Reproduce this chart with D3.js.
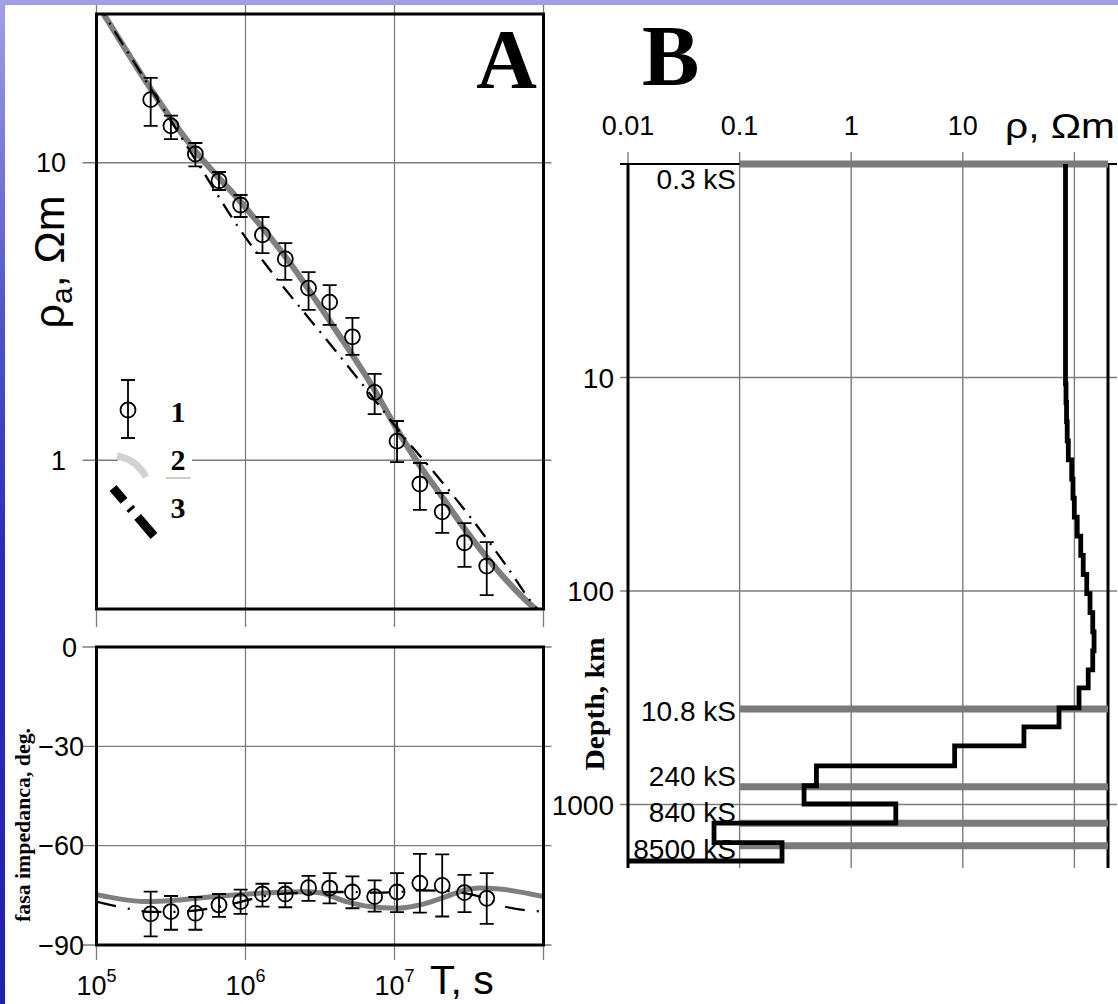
<!DOCTYPE html>
<html>
<head>
<meta charset="utf-8">
<script src="https://cdn.jsdelivr.net/npm/d3@7"></script>
<style>
  body { margin: 0; background: #fff; }
  svg { display: block; }
</style>
</head>
<body>
<div id="chart"></div>
<script>
// ---- panel A : apparent resistivity and phase ----
const periods = [2.31e5, 3.16e5, 4.61e5, 6.64e5, 9.27e5, 1.30e6, 1.85e6, 2.65e6, 3.67e6, 5.22e6, 7.36e6, 1.04e7, 1.48e7, 2.09e7, 2.95e7, 4.16e7];
const rhoObs = [16.3, 13.3, 10.7, 8.70, 7.21, 5.72, 4.75, 3.79, 3.40, 2.60, 1.69, 1.16, 0.832, 0.671, 0.528, 0.441];
const rhoLow = [13.3, 12.0, 9.73, 8.10, 6.57, 4.97, 4.04, 3.20, 2.85, 2.26, 1.43, 0.986, 0.681, 0.570, 0.438, 0.352];
const rhoHigh = [19.3, 14.4, 11.65, 9.31, 7.79, 6.57, 5.37, 4.29, 3.88, 3.01, 1.95, 1.355, 0.979, 0.776, 0.615, 0.531];

const phaseObs = [-80.6, -79.9, -80.4, -77.9, -76.9, -74.6, -74.6, -72.7, -72.8, -74.0, -75.4, -74.0, -71.3, -72.0, -74.2, -75.9];
const phaseLow = [-87.4, -85.4, -85.4, -81.5, -80.6, -78.4, -78.6, -76.7, -77.4, -78.9, -79.9, -80.1, -80.2, -81.4, -80.1, -83.6];
const phaseHigh = [-73.9, -75.2, -75.5, -74.6, -73.3, -71.5, -71.3, -69.1, -68.3, -69.3, -70.5, -68.3, -62.5, -62.6, -68.8, -68.3];

// model 2 (grey) and model 3 (dash-dot) responses
const model2T = [1e5, 4.64e5, 9.29e5, 1.86e6, 4.03e6, 7.36e6, 1.02e7, 1.50e7, 2.10e7, 2.90e7, 4.14e7, 8.83e7, 1e8];
const model2Rho = [34.6, 10.9, 7.38, 4.82, 2.74, 1.72, 1.29, 0.949, 0.751, 0.596, 0.473, 0.316, 0.30];
const model3T = [1e5, 5.26e5, 9.02e5, 1.46e6, 2.46e6, 4.09e6, 6.92e6, 1.17e7, 1.98e7, 3.34e7, 5.47e7, 8.83e7, 1e8];
const model3Rho = [34.6, 9.24, 6.04, 4.36, 3.15, 2.31, 1.66, 1.19, 0.872, 0.630, 0.451, 0.321, 0.30];

const model2PhT = [1e5, 2.17e5, 3.63e5, 6.73e5, 1.31e6, 2.56e6, 3.15e6, 4.75e6, 6.81e6, 1.03e7, 1.47e7, 2.22e7, 3.03e7, 3.72e7, 5.06e7, 1e8];
const model2Ph = [-74.8, -76.9, -76.4, -75.2, -74.3, -73.9, -74.2, -76.9, -78.4, -78.9, -77.9, -75.4, -73.3, -72.8, -73.1, -75.4];
const model3PhT = [1e5, 1.72e5, 2.29e5, 3.16e5, 4.57e5, 6.62e5, 9.29e5, 1.31e6, 1.83e6, 2.65e6, 3.67e6, 5.24e6, 7.36e6, 1.05e7, 1.48e7, 2.07e7, 2.95e7, 4.14e7, 5.47e7, 1e8];
const model3Ph = [-76.9, -79.2, -80.0, -80.0, -79.6, -78.5, -77.0, -75.3, -74.5, -74.2, -74.0, -74.0, -74.2, -74.0, -73.5, -73.6, -74.3, -76.0, -78.4, -79.9];

const periodTicks = [1e5, 1e6, 1e7, 1e8];
const periodTickExp = ['5', '6', '7'];
const rhoTicks = [1, 10];
const phaseTicks = [0, -30, -60, -90];

// ---- panel B : layered resistivity model ----
const layerTop = [1, 10.7, 13.1, 16.1, 19.8, 24.3, 29.9, 36.7, 45.1, 55.4, 68.1, 83.7, 102.8, 126.4, 155.3, 190.8, 234.4, 284.6, 353, 433, 532, 660, 817, 995, 1222, 1510];
const layerRho = [83.2, 84.1, 85.0, 86.2, 88.2, 94.6, 97.1, 99.8, 106, 114, 120, 129, 138, 146, 150, 146, 133, 110, 72.8, 35.3, 8.45, 0.488, 0.378, 2.51, 0.059, 0.240];
const modelBottom = 1840;
const sheetDepth = [1, 357, 826, 1225, 1559];
const sheetLabel = ['0.3 kS', '10.8 kS', '240 kS', '840 kS', '8500 kS'];
const rhoBTicks = [0.01, 0.1, 1, 10, 100];
const rhoBLabels = ['0.01', '0.1', '1', '10'];
const depthTicks = [1, 10, 100, 1000];
const depthLabels = ['10', '100', '1000'];

// ------------------------------------------------------------
const W = 1118, H = 1004;
const sans = '"Liberation Sans", Arial, Helvetica, sans-serif';
const serif = '"Liberation Serif", "Times New Roman", serif';
const gridColor = '#7c7c7c';
const modelGrey = '#7f7f7f';

const svg = d3.select('#chart').append('svg').attr('width', W).attr('height', H);
const defs = svg.append('defs');

const bg = defs.append('linearGradient').attr('id', 'bg').attr('x1', 0).attr('y1', 0).attr('x2', 0).attr('y2', 1);
bg.selectAll('stop')
  .data([[0, '#a0a0e2'], [0.3, '#5656c6'], [0.55, '#2c2cb4'], [1, '#2222a8']])
  .join('stop')
  .attr('offset', d => d[0])
  .attr('stop-color', d => d[1]);
svg.append('rect').attr('width', W).attr('height', H).attr('fill', 'url(#bg)');
svg.append('rect').attr('x', 5).attr('y', 5).attr('width', W - 5).attr('height', H - 5).attr('fill', '#fff');

// ---------------- panel A ----------------
const A = { l: 96.5, r: 543.5, t: 14, b: 609, pt: 647, pb: 945 };
const x = d3.scaleLog().domain([1e5, 1e8]).range([A.l, A.r]);
const yRho = d3.scaleLog().domain([10 ** -0.5, 10 ** 1.5]).range([A.b, A.t]);
const yPh = d3.scaleLinear().domain([-90, 0]).range([A.pb, A.pt]);

defs.append('clipPath').attr('id', 'clipRho')
  .append('rect').attr('x', A.l).attr('y', A.t).attr('width', A.r - A.l).attr('height', A.b - A.t);
defs.append('clipPath').attr('id', 'clipPh')
  .append('rect').attr('x', A.l).attr('y', A.pt).attr('width', A.r - A.l).attr('height', A.pb - A.pt);

const gA = svg.append('g');

// grid + ticks (period)
gA.append('g').selectAll('line').data(periodTicks).join('line')
  .attr('x1', d => x(d)).attr('x2', d => x(d))
  .attr('y1', A.t - 9).attr('y2', A.b + 18)
  .attr('stroke', gridColor).attr('stroke-width', 1.3);
gA.append('g').selectAll('line').data(periodTicks).join('line')
  .attr('x1', d => x(d)).attr('x2', d => x(d))
  .attr('y1', A.pt).attr('y2', A.pb + 15)
  .attr('stroke', gridColor).attr('stroke-width', 1.3);
gA.append('g').selectAll('line').data(rhoTicks).join('line')
  .attr('x1', A.l - 14).attr('x2', A.r + 8)
  .attr('y1', d => yRho(d)).attr('y2', d => yRho(d))
  .attr('stroke', gridColor).attr('stroke-width', 1.3);
gA.append('g').selectAll('line').data(phaseTicks).join('line')
  .attr('x1', A.l - 14).attr('x2', A.r + 8)
  .attr('y1', d => yPh(d)).attr('y2', d => yPh(d))
  .attr('stroke', gridColor).attr('stroke-width', 1.3);

// legend background masks the grid line
gA.append('rect').attr('x', 118).attr('y', 372).attr('width', 74).attr('height', 170).attr('fill', '#fff');

// model curves, resistivity
const lineRho = d3.line().x(d => x(d[0])).y(d => yRho(d[1])).curve(d3.curveMonotoneX);
const linePh = d3.line().x(d => x(d[0])).y(d => yPh(d[1])).curve(d3.curveMonotoneX);

const rhoCurves = gA.append('g').attr('clip-path', 'url(#clipRho)');
rhoCurves.append('path')
  .attr('d', lineRho(d3.zip(model2T, model2Rho)))
  .attr('fill', 'none').attr('stroke', modelGrey).attr('stroke-width', 6);
rhoCurves.append('path')
  .attr('d', lineRho(d3.zip(model3T, model3Rho)))
  .attr('fill', 'none').attr('stroke', '#000').attr('stroke-width', 2.3)
  .attr('stroke-dasharray', '16,8,2,8');

const phCurves = gA.append('g').attr('clip-path', 'url(#clipPh)');
phCurves.append('path')
  .attr('d', linePh(d3.zip(model2PhT, model2Ph)))
  .attr('fill', 'none').attr('stroke', modelGrey).attr('stroke-width', 5);
phCurves.append('path')
  .attr('d', linePh(d3.zip(model3PhT, model3Ph)))
  .attr('fill', 'none').attr('stroke', '#000').attr('stroke-width', 2.3)
  .attr('stroke-dasharray', '20,12,2,12');

// observed data with error bars
function errorBars(g, yScale, obs, lo, hi) {
  const idx = d3.range(periods.length);
  const cap = 7;
  g.append('g').selectAll('path').data(idx).join('path')
    .attr('d', i => {
      const px = x(periods[i]), y0 = yScale(lo[i]), y1 = yScale(hi[i]);
      return `M${px},${y0}V${y1}M${px - cap},${y0}H${px + cap}M${px - cap},${y1}H${px + cap}`;
    })
    .attr('fill', 'none').attr('stroke', '#000').attr('stroke-width', 1.8);
  g.append('g').selectAll('circle').data(idx).join('circle')
    .attr('cx', i => x(periods[i])).attr('cy', i => yScale(obs[i]))
    .attr('r', 7.5)
    .attr('fill', 'none').attr('stroke', '#000').attr('stroke-width', 1.8);
}
errorBars(gA, yRho, rhoObs, rhoLow, rhoHigh);
errorBars(gA, yPh, phaseObs, phaseLow, phaseHigh);

// frames
gA.append('rect').attr('x', A.l).attr('y', A.t).attr('width', A.r - A.l).attr('height', A.b - A.t)
  .attr('fill', 'none').attr('stroke', '#000').attr('stroke-width', 3);
gA.append('rect').attr('x', A.l).attr('y', A.pt).attr('width', A.r - A.l).attr('height', A.pb - A.pt)
  .attr('fill', 'none').attr('stroke', '#000').attr('stroke-width', 3);

// legend
const leg = gA.append('g');
leg.append('path').attr('d', 'M128,380V438M121,380H135M121,438H135')
  .attr('stroke', '#000').attr('stroke-width', 1.8).attr('fill', 'none');
leg.append('circle').attr('cx', 128).attr('cy', 410).attr('r', 7.5)
  .attr('fill', 'none').attr('stroke', '#000').attr('stroke-width', 1.8);
leg.append('path').attr('d', 'M117,456 Q136,459 146,477')
  .attr('fill', 'none').attr('stroke', '#d2d2d2').attr('stroke-width', 7);
leg.append('line').attr('x1', 113).attr('y1', 488).attr('x2', 154).attr('y2', 536)
  .attr('stroke', '#000').attr('stroke-width', 9).attr('stroke-dasharray', '17,9,3,9,40');
leg.append('line').attr('x1', 166).attr('x2', 191).attr('y1', 478).attr('y2', 478)
  .attr('stroke', '#999').attr('stroke-width', 1);
leg.selectAll('text').data(['1', '2', '3']).join('text')
  .attr('x', 178).attr('y', (d, i) => 422 + i * 48)
  .attr('text-anchor', 'middle')
  .attr('font-family', serif).attr('font-weight', 'bold').attr('font-size', 30)
  .text(d => d);

// tick labels
gA.append('g').selectAll('text').data(rhoTicks).join('text')
  .attr('x', 66).attr('y', d => yRho(d)).attr('dy', '0.36em')
  .attr('text-anchor', 'end').attr('font-family', sans).attr('font-size', 27)
  .text(d => d);
gA.append('g').selectAll('text').data(phaseTicks).join('text')
  .attr('x', d => d === 0 ? 77 : 84).attr('y', d => yPh(d)).attr('dy', '0.36em')
  .attr('text-anchor', 'end').attr('font-family', sans).attr('font-size', 27)
  .text(d => d === 0 ? '0' : '\u2212' + Math.abs(d));
const xl = gA.append('g').selectAll('text').data(periodTicks.slice(0, 3)).join('text')
  .attr('x', d => x(d)).attr('y', 995)
  .attr('text-anchor', 'middle').attr('font-family', sans).attr('font-size', 27);
xl.append('tspan').text('10');
xl.append('tspan').attr('dy', -13).attr('font-size', 18).text((d, i) => periodTickExp[i]);
gA.append('text').attr('x', 430).attr('y', 994)
  .attr('font-family', sans).attr('font-size', 41).text('T, s');

// axis titles
const rl = gA.append('text')
  .attr('transform', 'translate(64,262) rotate(-90)')
  .attr('text-anchor', 'middle').attr('font-family', sans).attr('font-size', 43);
rl.append('tspan').text('\u03c1');
rl.append('tspan').attr('font-size', 30).attr('dy', 8).text('a');
rl.append('tspan').attr('dy', -8).text(', \u03a9m');

gA.append('text')
  .attr('transform', 'translate(30,825) rotate(-90)')
  .attr('text-anchor', 'middle').attr('font-family', serif).attr('font-weight', 'bold')
  .attr('font-size', 22).attr('textLength', 194).attr('lengthAdjust', 'spacingAndGlyphs')
  .text('fasa impedanca, deg.');

gA.append('text').attr('x', 537).attr('y', 88).attr('text-anchor', 'end')
  .attr('font-family', serif).attr('font-weight', 'bold').attr('font-size', 84).text('A');

// ---------------- panel B ----------------
const B = { l: 628, r: 1108, t: 164, b: 861 };
const xB = d3.scaleLog().domain([0.01, 200]).range([B.l, B.r]);
const yB = d3.scaleLog().domain([1, modelBottom]).range([B.t, B.b]);
const gB = svg.append('g');

gB.append('g').selectAll('line').data(rhoBTicks).join('line')
  .attr('x1', d => xB(d)).attr('x2', d => xB(d))
  .attr('y1', B.t - 12).attr('y2', B.b + 7)
  .attr('stroke', gridColor).attr('stroke-width', 1.4);
gB.append('g').selectAll('line').data(depthTicks).join('line')
  .attr('x1', B.l - 8).attr('x2', B.r + 9)
  .attr('y1', d => yB(d)).attr('y2', d => yB(d))
  .attr('stroke', gridColor).attr('stroke-width', 1.4);

// frame: top, left, right (no bottom line)
gB.append('line').attr('x1', B.l - 8).attr('x2', B.r + 9).attr('y1', B.t).attr('y2', B.t)
  .attr('stroke', '#000').attr('stroke-width', 2);
gB.selectAll('.side').data([B.l, B.r]).join('line')
  .attr('x1', d => d).attr('x2', d => d).attr('y1', B.t).attr('y2', B.b + 7)
  .attr('stroke', '#000').attr('stroke-width', 3);

// conductive sheets
gB.append('g').selectAll('line').data(sheetDepth).join('line')
  .attr('x1', xB(0.1)).attr('x2', xB(200))
  .attr('y1', d => yB(d)).attr('y2', d => yB(d))
  .attr('stroke', '#7a7a7a').attr('stroke-width', 7);

// layered profile
const steps = [];
layerRho.forEach((r, i) => {
  steps.push([r, layerTop[i]]);
  steps.push([r, i + 1 < layerTop.length ? layerTop[i + 1] : modelBottom]);
});
steps.push([0.01, modelBottom]);
gB.append('path')
  .attr('d', d3.line().x(d => xB(d[0])).y(d => yB(d[1]))(steps))
  .attr('fill', 'none').attr('stroke', '#000').attr('stroke-width', 4.8)
  .attr('stroke-linejoin', 'miter');

// sheet labels
const sheetDy = [25, 12, -1, -1, 13];
gB.append('g').selectAll('text').data(sheetLabel).join('text')
  .attr('x', 736).attr('y', (d, i) => yB(sheetDepth[i]) + sheetDy[i])
  .attr('text-anchor', 'end').attr('font-family', sans).attr('font-size', 28)
  .text(d => d);

// tick labels
gB.append('g').selectAll('text').data(rhoBLabels).join('text')
  .attr('x', (d, i) => xB(rhoBTicks[i])).attr('y', 135)
  .attr('text-anchor', 'middle').attr('font-family', sans).attr('font-size', 27)
  .text(d => d);
gB.append('g').selectAll('text').data(depthLabels).join('text')
  .attr('x', 614).attr('y', (d, i) => yB(depthTicks[i + 1])).attr('dy', '0.36em')
  .attr('text-anchor', 'end').attr('font-family', sans).attr('font-size', 28)
  .text(d => d);

gB.append('text').attr('x', 1005).attr('y', 138)
  .attr('font-family', sans).attr('font-size', 35)
  .attr('textLength', 110).attr('lengthAdjust', 'spacingAndGlyphs')
  .text('\u03c1, \u03a9m');

gB.append('text')
  .attr('transform', 'translate(604,704) rotate(-90)')
  .attr('text-anchor', 'middle').attr('font-family', serif).attr('font-weight', 'bold')
  .attr('font-size', 28).attr('textLength', 133).attr('lengthAdjust', 'spacingAndGlyphs')
  .text('Depth, km');

gB.append('text').attr('x', 642).attr('y', 85)
  .attr('font-family', serif).attr('font-weight', 'bold').attr('font-size', 86).text('B');
</script>
</body>
</html>
